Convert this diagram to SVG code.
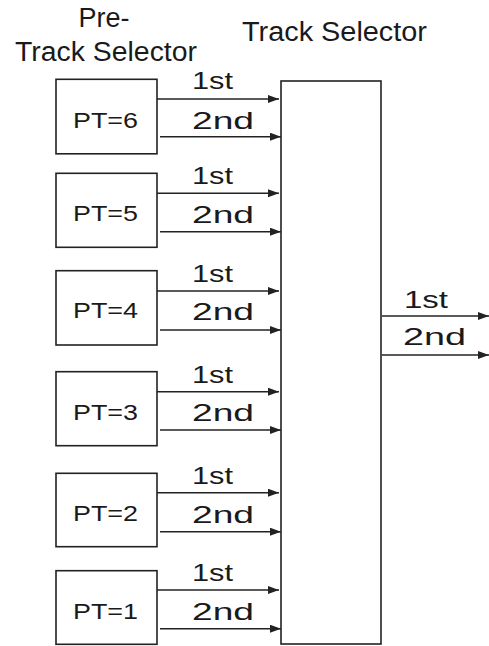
<svg xmlns="http://www.w3.org/2000/svg" width="489" height="646" viewBox="0 0 489 646">
<defs>
<marker id="ah" markerUnits="userSpaceOnUse" markerWidth="12" markerHeight="10" refX="11" refY="4" orient="auto">
<path d="M0,0 L11,4 L0,8 Z" fill="#222"/>
</marker>
<style>
.box{fill:#fff;stroke:#222;stroke-width:1.6}
.ln{stroke:#222;stroke-width:1.4;fill:none;marker-end:url(#ah)}
.t{font-family:"Liberation Sans",Arial,sans-serif;fill:#1a1a1a}
.big{font-size:27px}
.sm{font-size:22px}
.lb{font-size:24px}
</style>
</defs>
<rect width="489" height="646" fill="#fff"/>
<g id="titles">
<text class="t big" x="104" y="27" text-anchor="middle">Pre-</text>
<text class="t big" x="15" y="61" textLength="182" lengthAdjust="spacingAndGlyphs">Track Selector</text>
<text class="t big" x="242" y="41" textLength="185" lengthAdjust="spacingAndGlyphs">Track Selector</text>
</g>
<g id="track-selector">
<rect class="box" x="281" y="81" width="100" height="563"/>
</g>
<g id="pt6">
<rect class="box" x="56" y="79.3" width="101" height="74.5"/>
<text class="t sm" x="73" y="127.7" textLength="65" lengthAdjust="spacingAndGlyphs">PT=6</text>
</g>
<g id="pt5">
<rect class="box" x="56" y="173.3" width="101" height="74"/>
<text class="t sm" x="73" y="221.3" textLength="65" lengthAdjust="spacingAndGlyphs">PT=5</text>
</g>
<g id="pt4">
<rect class="box" x="56" y="270.7" width="101" height="74.3"/>
<text class="t sm" x="73" y="318.3" textLength="65" lengthAdjust="spacingAndGlyphs">PT=4</text>
</g>
<g id="pt3">
<rect class="box" x="56" y="371.7" width="101" height="74"/>
<text class="t sm" x="73" y="419.5" textLength="65" lengthAdjust="spacingAndGlyphs">PT=3</text>
</g>
<g id="pt2">
<rect class="box" x="56" y="473.3" width="101" height="73.4"/>
<text class="t sm" x="73" y="521" textLength="65" lengthAdjust="spacingAndGlyphs">PT=2</text>
</g>
<g id="pt1">
<rect class="box" x="56" y="570.7" width="101" height="73.6"/>
<text class="t sm" x="73" y="618.5" textLength="65" lengthAdjust="spacingAndGlyphs">PT=1</text>
</g>
<g id="connectors">
<line class="ln" x1="157" y1="99" x2="279" y2="99"/>
<line class="ln" x1="160" y1="136.7" x2="281" y2="136.7"/>
<line class="ln" x1="157" y1="193.3" x2="279" y2="193.3"/>
<line class="ln" x1="160" y1="231.7" x2="281" y2="231.7"/>
<line class="ln" x1="157" y1="291" x2="279" y2="291"/>
<line class="ln" x1="160" y1="330" x2="281" y2="330"/>
<line class="ln" x1="157" y1="391.7" x2="279" y2="391.7"/>
<line class="ln" x1="160" y1="430" x2="281" y2="430"/>
<line class="ln" x1="157" y1="492.7" x2="279" y2="492.7"/>
<line class="ln" x1="160" y1="531.7" x2="281" y2="531.7"/>
<line class="ln" x1="157" y1="590" x2="279" y2="590"/>
<line class="ln" x1="160" y1="628.7" x2="281" y2="628.7"/>
<line class="ln" x1="382" y1="316" x2="489" y2="316"/>
<line class="ln" x1="382" y1="355" x2="489" y2="355"/>
</g>
<g id="connector-labels">
<text class="t lb" x="192" y="89.3" textLength="41" lengthAdjust="spacingAndGlyphs">1st</text>
<text class="t lb" x="192" y="129.3" textLength="62" lengthAdjust="spacingAndGlyphs">2nd</text>
<text class="t lb" x="192" y="183.5" textLength="41" lengthAdjust="spacingAndGlyphs">1st</text>
<text class="t lb" x="192" y="223" textLength="62" lengthAdjust="spacingAndGlyphs">2nd</text>
<text class="t lb" x="192" y="281.7" textLength="41" lengthAdjust="spacingAndGlyphs">1st</text>
<text class="t lb" x="192" y="320" textLength="62" lengthAdjust="spacingAndGlyphs">2nd</text>
<text class="t lb" x="192" y="382.5" textLength="41" lengthAdjust="spacingAndGlyphs">1st</text>
<text class="t lb" x="192" y="421" textLength="62" lengthAdjust="spacingAndGlyphs">2nd</text>
<text class="t lb" x="192" y="484" textLength="41" lengthAdjust="spacingAndGlyphs">1st</text>
<text class="t lb" x="192" y="523" textLength="62" lengthAdjust="spacingAndGlyphs">2nd</text>
<text class="t lb" x="192" y="581" textLength="41" lengthAdjust="spacingAndGlyphs">1st</text>
<text class="t lb" x="192" y="620" textLength="62" lengthAdjust="spacingAndGlyphs">2nd</text>
<text class="t lb" x="404" y="308.3" textLength="44" lengthAdjust="spacingAndGlyphs">1st</text>
<text class="t lb" x="403" y="345" textLength="63" lengthAdjust="spacingAndGlyphs">2nd</text>
</g>
</svg>
